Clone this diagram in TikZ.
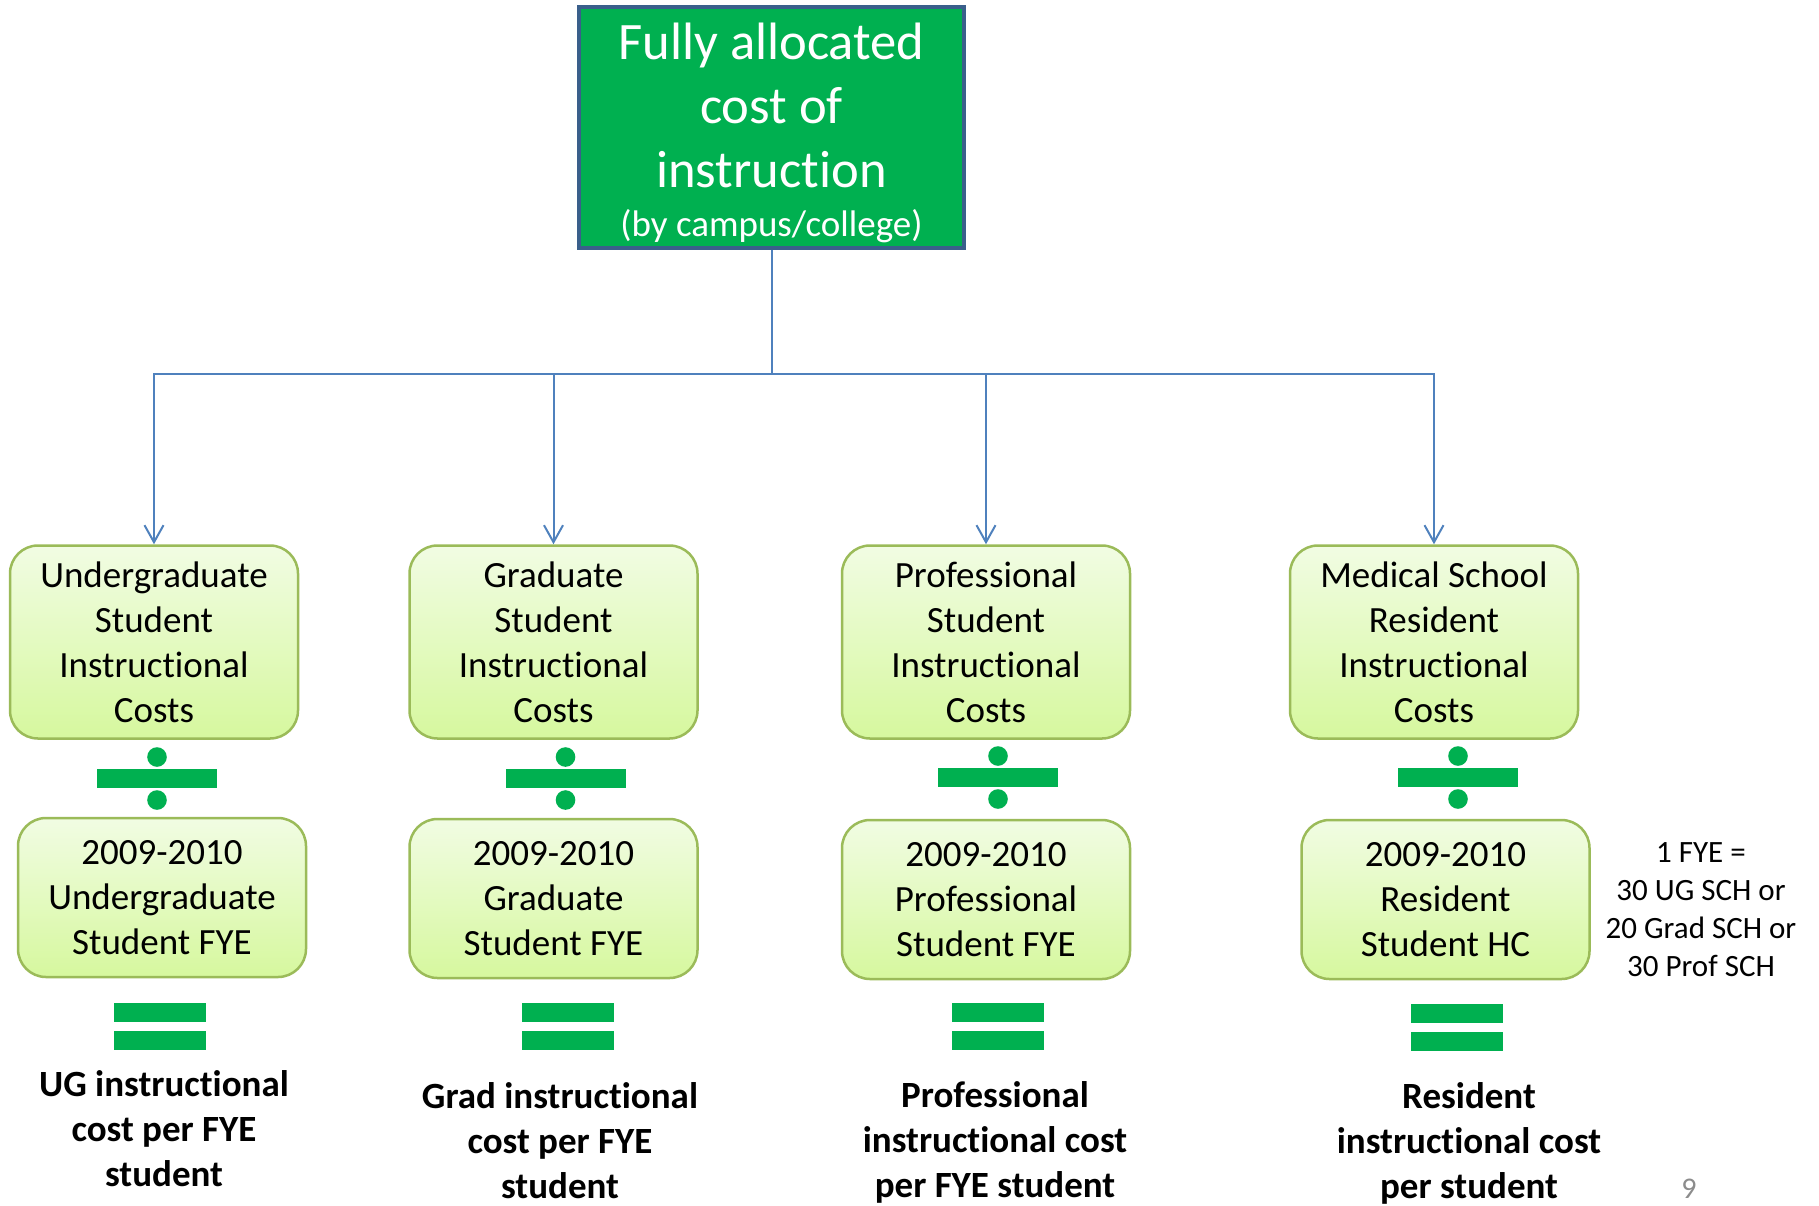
\documentclass[tikz,border=0pt]{standalone}
\usepackage{fontspec}
\setmainfont[Ligatures=NoCommon]{Carlito}
\usetikzlibrary{arrows.meta}
\definecolor{accent}{HTML}{00B050}
\definecolor{frameblue}{HTML}{3A5F8B}
\definecolor{linkblue}{HTML}{4F81BD}
\definecolor{leafedge}{HTML}{9BBB59}
\definecolor{leaftop}{HTML}{F1FCE3}
\definecolor{leafbot}{HTML}{D6F89E}
\definecolor{pagegray}{HTML}{8C8C8C}

\begin{document}
\begin{tikzpicture}[x=1pt,y=-1pt,
  rootbox/.style={rectangle, draw=frameblue, line width=3.5pt, fill=accent,
    minimum width=385pt, minimum height=241pt, inner sep=0pt},
  roottext/.style={align=center, text=white, inner sep=0pt,
    font=\fontsize{52.6}{64}\selectfont},
  costbox/.style={rectangle, rounded corners=28pt, draw=leafedge, line width=2.5pt,
    top color=leaftop, bottom color=leafbot, minimum width=288pt,
    align=center, inner sep=0pt, font=\fontsize{37}{45}\selectfont},
  upper/.style={costbox, minimum height=193pt},
  lower/.style={costbox, minimum height=159pt},
  result/.style={align=center, inner sep=0pt, font=\bfseries\fontsize{37}{45}\selectfont},
  note/.style={align=center, inner sep=0pt, font=\fontsize{31}{38}\selectfont},
  link/.style={draw=linkblue, line width=2pt},
  linkarrow/.style={link, -{Straight Barb[length=17pt,width=19pt,line width=2pt]}},
  divsign/.pic={
    \fill[accent] (-60,-9.5) rectangle (60,9.5);
    \fill[accent] (0,-21.5) circle (9.8);
    \fill[accent] (0,21.5) circle (9.8);
  },
  eqsign/.pic={
    \fill[accent] (-46,-23.5) rectangle (46,-4.5);
    \fill[accent] (-46,4.5) rectangle (46,23.5);
  }]
\useasboundingbox (0,0) rectangle (1819,1205);

% root of the tree
\node[rootbox] (root) at (771.5,127.5) {};
\node[roottext] (roottitle) at (771.5,133)
  {Fully allocated\\cost of\\instruction\\[-15pt]{\fontsize{37}{45}\selectfont (by campus/college)}};

% cost categories
\node[upper] (ugcost)   at (154,642)  {Undergraduate\\Student\\Instructional\\Costs};
\node[upper] (gradcost) at (553.5,642) {Graduate\\Student\\Instructional\\Costs};
\node[upper] (profcost) at (986,642)  {Professional\\Student\\Instructional\\Costs};
\node[upper] (rescost)  at (1434,642) {Medical School\\Resident\\Instructional\\Costs};

% headcount denominators
\node[lower] (ugfye)   at (162,897.5)  {2009-2010\\Undergraduate\\Student FYE};
\node[lower] (gradfye) at (553.5,898.5) {2009-2010\\Graduate\\Student FYE};
\node[lower] (proffye) at (986,899.5)  {2009-2010\\Professional\\Student FYE};
\node[lower] (reshc)   at (1445.5,899.5) {2009-2010\\Resident\\Student HC};

% tree connectors
\coordinate (hub) at (771.5,373.5);
\draw[link] (root.south) -- (hub);
\draw[linkarrow] (hub) -| (ugcost.north);
\draw[linkarrow] (hub) -| (gradcost.north);
\draw[linkarrow] (hub) -| (profcost.north);
\draw[linkarrow] (hub) -| (rescost.north);

% operators
\pic at (157,778.5) {divsign};
\pic at (565.5,778.5) {divsign};
\pic at (998,777.5) {divsign};
\pic at (1458,777.5) {divsign};
\pic at (159.5,1026.5) {eqsign};
\pic at (567.5,1026.5) {eqsign};
\pic at (998,1026.5) {eqsign};
\pic at (1456.5,1027.5) {eqsign};

% results
\node[result] (ugres)   at (164,1129)  {UG instructional\\cost per FYE\\student};
\node[result] (gradres) at (560,1141)  {Grad instructional\\cost per FYE\\student};
\node[result] (profres) at (995,1142.5)  {Professional\\instructional cost\\per FYE student};
\node[result] (resres)  at (1469,1143.5) {Resident\\instructional cost\\per student};

% side note and page number
\node[note] (fyenote) at (1701,910) {1 FYE =\\30 UG SCH or\\20 Grad SCH or\\30 Prof SCH};
\node[text=pagegray, font=\fontsize{30}{36}\selectfont, inner sep=0pt] (pageno) at (1689,1189) {9};
\end{tikzpicture}
\end{document}
